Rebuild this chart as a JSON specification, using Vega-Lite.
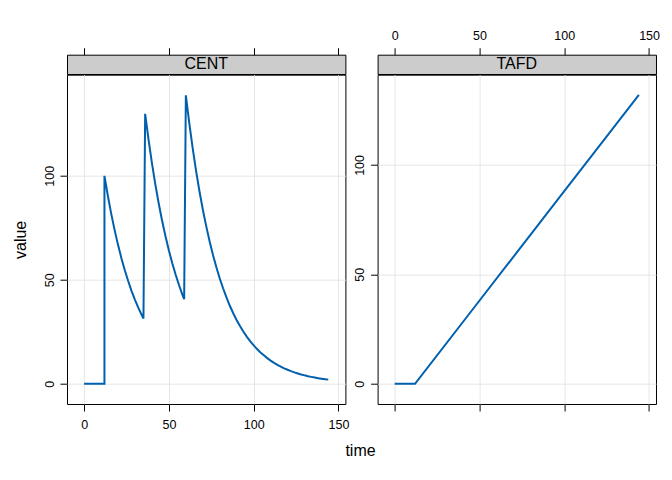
{
  "$schema": "https://vega.github.io/schema/vega-lite/v6.json",
  "padding": {"left": 12, "top": 28.7, "right": 5, "bottom": 5},
  "background": "white",
  "datasets": {
    "sim": [
      {"i": 1, "name": "CENT", "time": 0, "value": 0},
      {"i": 2, "name": "CENT", "time": 12, "value": 0},
      {"i": 3, "name": "CENT", "time": 12, "value": 100},
      {"i": 4, "name": "CENT", "time": 14, "value": 90.4},
      {"i": 5, "name": "CENT", "time": 16, "value": 81.7},
      {"i": 6, "name": "CENT", "time": 18, "value": 73.9},
      {"i": 7, "name": "CENT", "time": 20, "value": 66.8},
      {"i": 8, "name": "CENT", "time": 22, "value": 60.4},
      {"i": 9, "name": "CENT", "time": 24, "value": 54.6},
      {"i": 10, "name": "CENT", "time": 26, "value": 49.4},
      {"i": 11, "name": "CENT", "time": 28, "value": 44.6},
      {"i": 12, "name": "CENT", "time": 30, "value": 40.4},
      {"i": 13, "name": "CENT", "time": 32, "value": 36.5},
      {"i": 14, "name": "CENT", "time": 34, "value": 33.0},
      {"i": 15, "name": "CENT", "time": 35, "value": 31.4},
      {"i": 16, "name": "CENT", "time": 36, "value": 129.8},
      {"i": 17, "name": "CENT", "time": 38, "value": 117.4},
      {"i": 18, "name": "CENT", "time": 40, "value": 106.1},
      {"i": 19, "name": "CENT", "time": 42, "value": 95.9},
      {"i": 20, "name": "CENT", "time": 44, "value": 86.7},
      {"i": 21, "name": "CENT", "time": 46, "value": 78.4},
      {"i": 22, "name": "CENT", "time": 48, "value": 70.9},
      {"i": 23, "name": "CENT", "time": 50, "value": 64.1},
      {"i": 24, "name": "CENT", "time": 52, "value": 58.0},
      {"i": 25, "name": "CENT", "time": 54, "value": 52.4},
      {"i": 26, "name": "CENT", "time": 56, "value": 47.4},
      {"i": 27, "name": "CENT", "time": 58, "value": 42.8},
      {"i": 28, "name": "CENT", "time": 59, "value": 40.7},
      {"i": 29, "name": "CENT", "time": 60, "value": 138.7},
      {"i": 30, "name": "CENT", "time": 62, "value": 125.4},
      {"i": 31, "name": "CENT", "time": 64, "value": 113.4},
      {"i": 32, "name": "CENT", "time": 66, "value": 102.5},
      {"i": 33, "name": "CENT", "time": 68, "value": 92.7},
      {"i": 34, "name": "CENT", "time": 70, "value": 83.8},
      {"i": 35, "name": "CENT", "time": 72, "value": 75.8},
      {"i": 36, "name": "CENT", "time": 74, "value": 68.5},
      {"i": 37, "name": "CENT", "time": 76, "value": 61.9},
      {"i": 38, "name": "CENT", "time": 78, "value": 56.0},
      {"i": 39, "name": "CENT", "time": 80, "value": 50.6},
      {"i": 40, "name": "CENT", "time": 82, "value": 45.8},
      {"i": 41, "name": "CENT", "time": 84, "value": 41.4},
      {"i": 42, "name": "CENT", "time": 86, "value": 37.4},
      {"i": 43, "name": "CENT", "time": 88, "value": 33.8},
      {"i": 44, "name": "CENT", "time": 90, "value": 30.6},
      {"i": 45, "name": "CENT", "time": 92, "value": 27.7},
      {"i": 46, "name": "CENT", "time": 94, "value": 25.0},
      {"i": 47, "name": "CENT", "time": 96, "value": 22.6},
      {"i": 48, "name": "CENT", "time": 98, "value": 20.4},
      {"i": 49, "name": "CENT", "time": 100, "value": 18.5},
      {"i": 50, "name": "CENT", "time": 102, "value": 16.7},
      {"i": 51, "name": "CENT", "time": 104, "value": 15.1},
      {"i": 52, "name": "CENT", "time": 106, "value": 13.7},
      {"i": 53, "name": "CENT", "time": 108, "value": 12.35},
      {"i": 54, "name": "CENT", "time": 110, "value": 11.17},
      {"i": 55, "name": "CENT", "time": 112, "value": 10.1},
      {"i": 56, "name": "CENT", "time": 114, "value": 9.13},
      {"i": 57, "name": "CENT", "time": 116, "value": 8.25},
      {"i": 58, "name": "CENT", "time": 118, "value": 7.46},
      {"i": 59, "name": "CENT", "time": 120, "value": 6.75},
      {"i": 60, "name": "CENT", "time": 122, "value": 6.1},
      {"i": 61, "name": "CENT", "time": 124, "value": 5.51},
      {"i": 62, "name": "CENT", "time": 126, "value": 4.99},
      {"i": 63, "name": "CENT", "time": 128, "value": 4.51},
      {"i": 64, "name": "CENT", "time": 130, "value": 4.07},
      {"i": 65, "name": "CENT", "time": 132, "value": 3.68},
      {"i": 66, "name": "CENT", "time": 134, "value": 3.33},
      {"i": 67, "name": "CENT", "time": 136, "value": 3.01},
      {"i": 68, "name": "CENT", "time": 138, "value": 2.72},
      {"i": 69, "name": "CENT", "time": 140, "value": 2.46},
      {"i": 70, "name": "CENT", "time": 142, "value": 2.23},
      {"i": 71, "name": "CENT", "time": 144, "value": 2.01},
      {"i": 72, "name": "TAFD", "time": 0, "value": 0},
      {"i": 73, "name": "TAFD", "time": 12, "value": 0},
      {"i": 74, "name": "TAFD", "time": 48, "value": 36},
      {"i": 75, "name": "TAFD", "time": 96, "value": 84},
      {"i": 76, "name": "TAFD", "time": 144, "value": 132}
    ]
  },
  "config": {
    "font": "Liberation Sans",
    "view": {"stroke": null},
    "axis": {
      "domain": false,
      "tickColor": "black",
      "tickSize": 7,
      "labelFont": "Liberation Sans",
      "labelFontSize": 12.5,
      "labelColor": "black",
      "labelFlush": false,
      "labelOverlap": false,
      "gridColor": "#e6e6e6",
      "titleFont": "Liberation Sans",
      "titleFontSize": 16,
      "titleFontWeight": "normal",
      "titleColor": "black"
    }
  },
  "title": {
    "text": "time",
    "orient": "bottom",
    "anchor": "middle",
    "frame": "group",
    "offset": 11.5,
    "dx": 293.5,
    "font": "Liberation Sans",
    "fontSize": 16,
    "fontWeight": "normal",
    "color": "black"
  },
  "bounds": "flush",
  "columns": 2,
  "spacing": {"row": 0, "column": 31.6},
  "concat": [
    {
      "width": 278.4,
      "height": 19.3,
      "view": {"fill": "#CCCCCC", "stroke": "black"},
      "data": {"values": [{"panel": "CENT"}]},
      "mark": {"type": "text", "fontSize": 16, "font": "Liberation Sans", "color": "black"},
      "encoding": {
        "text": {"field": "panel"},
        "x": {
          "datum": 72,
          "type": "quantitative",
          "scale": {"domain": [-10.08, 154.08], "nice": false, "zero": false},
          "axis": {"orient": "top", "values": [0, 50, 100, 150], "labels": false, "grid": false, "title": null}
        }
      }
    },
    {
      "width": 278.4,
      "height": 19.3,
      "view": {"fill": "#CCCCCC", "stroke": "black"},
      "data": {"values": [{"panel": "TAFD"}]},
      "mark": {"type": "text", "fontSize": 16, "font": "Liberation Sans", "color": "black"},
      "encoding": {
        "text": {"field": "panel"},
        "x": {
          "datum": 72,
          "type": "quantitative",
          "scale": {"domain": [-10.08, 154.08], "nice": false, "zero": false},
          "axis": {"orient": "top", "values": [0, 50, 100, 150], "labels": true, "grid": false, "title": null, "labelBaseline": "alphabetic", "labelPadding": 8.5}
        }
      }
    },
    {
      "width": 278.4,
      "height": 329.3,
      "view": {"stroke": "black"},
      "data": {"name": "sim"},
      "transform": [{"filter": "datum.name === 'CENT'"}],
      "mark": {"type": "line", "color": "#0060AD", "strokeWidth": 2},
      "encoding": {
        "x": {
          "field": "time",
          "type": "quantitative",
          "scale": {"domain": [-10.08, 154.08], "nice": false, "zero": false},
          "axis": {"orient": "bottom", "values": [0, 50, 100, 150], "grid": true, "title": null, "labelBaseline": "alphabetic", "labelPadding": 17.5}
        },
        "y": {
          "field": "value",
          "type": "quantitative",
          "scale": {"domain": [-9.7, 148.6], "nice": false, "zero": false},
          "axis": {"values": [0, 50, 100], "grid": true, "title": "value", "labelAngle": 270, "labelAlign": "center", "labelBaseline": "alphabetic", "labelPadding": 7, "titlePadding": 14.5}
        },
        "order": {"field": "i", "type": "quantitative"}
      }
    },
    {
      "width": 278.4,
      "height": 329.3,
      "view": {"stroke": "black"},
      "data": {"name": "sim"},
      "transform": [{"filter": "datum.name === 'TAFD'"}],
      "mark": {"type": "line", "color": "#0060AD", "strokeWidth": 2},
      "encoding": {
        "x": {
          "field": "time",
          "type": "quantitative",
          "scale": {"domain": [-10.08, 154.08], "nice": false, "zero": false},
          "axis": {"orient": "bottom", "values": [0, 50, 100, 150], "grid": true, "labels": false, "title": null}
        },
        "y": {
          "field": "value",
          "type": "quantitative",
          "scale": {"domain": [-9.24, 141.24], "nice": false, "zero": false},
          "axis": {"values": [0, 50, 100], "grid": true, "title": null, "labelAngle": 270, "labelAlign": "center", "labelBaseline": "alphabetic", "labelPadding": 7.5}
        },
        "order": {"field": "i", "type": "quantitative"}
      }
    }
  ],
  "resolve": {"scale": {"x": "independent", "y": "independent"}}
}
